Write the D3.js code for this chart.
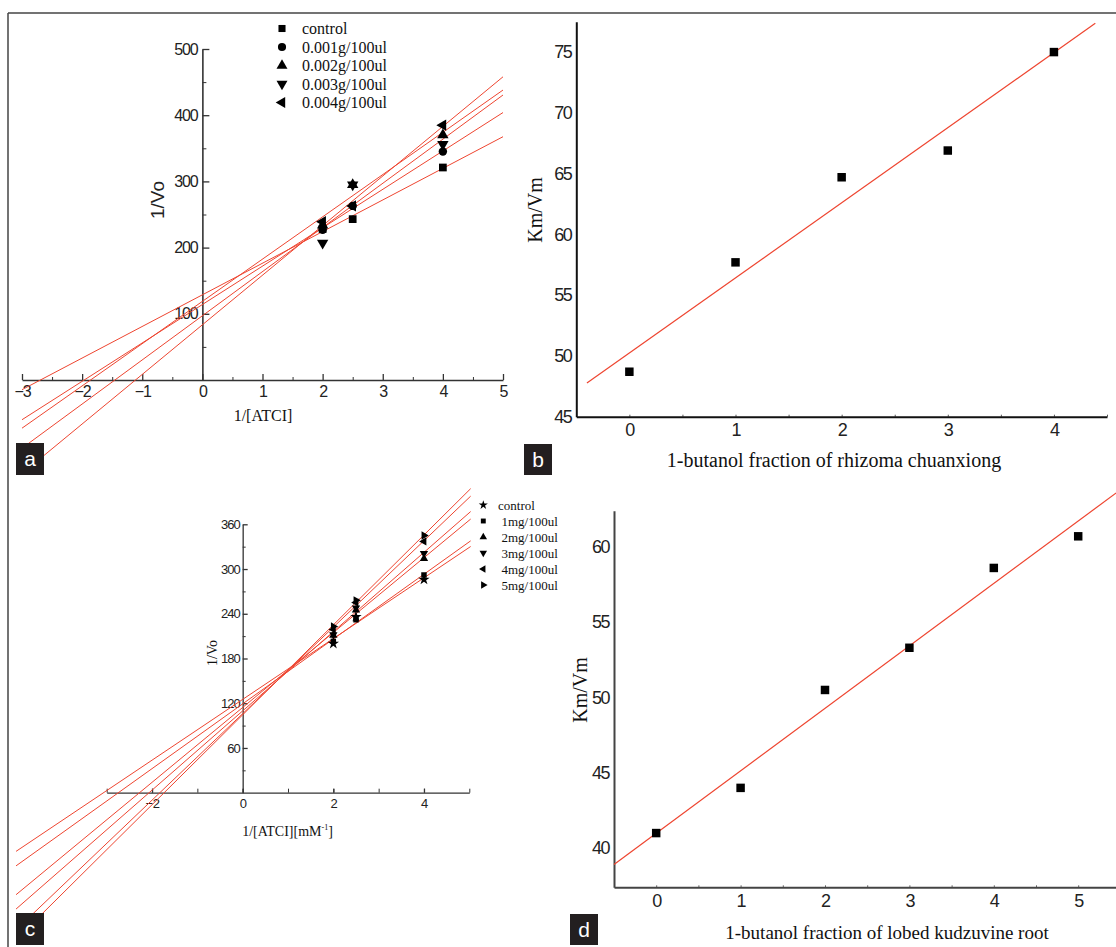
<!DOCTYPE html>
<html lang="en">
<head>
<meta charset="utf-8">
<title>Lineweaver-Burk plots</title>
<script src="https://d3js.org/d3.v7.min.js"></script>
<style>
  body { margin: 0; background: #fff; }
  .tick text { font-family: "Liberation Sans", Arial, sans-serif; fill: #222; }
  .serif { font-family: "Liberation Serif", "Times New Roman", serif; fill: #111; }
</style>
</head>
<body>
<script>
// ---- data ----
// panel a: 1/Vo vs 1/[ATCI]
const aX = [2, 2.5, 4];
const aNames = ["control", "0.001g/100ul", "0.002g/100ul", "0.003g/100ul", "0.004g/100ul"];
const aControl = [228, 243, 321];
const a001 = [227, 263, 345];
const a002 = [234, 295, 370];
const a003 = [207, 295, 356];
const a004 = [239, 263, 385];
const aXTicks = [-3, -2, -1, 0, 1, 2, 3, 4, 5];
const aYTicks = [100, 200, 300, 400, 500];

// panel b: Km/Vm vs fraction (rhizoma chuanxiong)
const bX = [0, 1, 2, 3, 4];
const bY = [48.7, 57.7, 64.7, 66.9, 75.0];
const bXTicks = [0, 1, 2, 3, 4];
const bYTicks = [45, 50, 55, 60, 65, 70, 75];

// panel c: 1/Vo vs 1/[ATCI][mM-1]
const cX = [2, 2.5, 4];
const cNames = ["control", "1mg/100ul", "2mg/100ul", "3mg/100ul", "4mg/100ul", "5mg/100ul"];
const cControl = [200, 236, 286];
const c1mg = [203, 232, 292];
const c2mg = [211, 245, 314];
const c3mg = [212, 248, 321];
const c4mg = [219, 255, 337];
const c5mg = [223, 258, 345];
const cXTicks = [-2, 0, 2, 4];
const cYTicks = [60, 120, 180, 240, 300, 360];

// panel d: Km/Vm vs fraction (lobed kudzuvine root)
const dX = [0, 1, 2, 3, 4, 5];
const dY = [41.0, 44.0, 50.5, 53.3, 58.6, 60.7];
const dXTicks = [0, 1, 2, 3, 4, 5];
const dYTicks = [40, 45, 50, 55, 60];

// ---- svg ----
const width = 1116, height = 947;
const svg = d3.select("body").append("svg")
  .attr("width", width).attr("height", height);
svg.append("rect").attr("width", width).attr("height", height).attr("fill", "#fff");

const red = "#ee4530";
const intFmt = d3.format("d");

// least squares line through the points
function fit(xs, ys) {
  const mx = d3.mean(xs), my = d3.mean(ys);
  let sxy = 0, sxx = 0;
  xs.forEach((x, i) => { sxy += (x - mx) * (ys[i] - my); sxx += (x - mx) * (x - mx); });
  const m = sxy / sxx;
  return { m: m, b: my - m * mx };
}

function drawFit(g, x, y, xs, ys, range, w) {
  const f = fit(xs, ys);
  g.append("path")
    .datum(range)
    .attr("d", d3.line().x(d => x(d)).y(d => y(f.m * d + f.b)))
    .attr("fill", "none")
    .attr("stroke", red)
    .attr("stroke-width", w || 1.1);
}

// symbol shapes: [type, rotation]
const mk = {
  square: [d3.symbolSquare, 0],
  circle: [d3.symbolCircle, 0],
  up: [d3.symbolTriangle, 0],
  down: [d3.symbolTriangle, 180],
  left: [d3.symbolTriangle, -90],
  right: [d3.symbolTriangle, 90],
  star: [d3.symbolStar, 0]
};
function marker(g, shape, size, px, py) {
  const s = mk[shape];
  g.append("path")
    .attr("d", d3.symbol().type(s[0]).size(size)())
    .attr("transform", `translate(${px},${py}) rotate(${s[1]})`)
    .attr("fill", "#000");
}

function styleAxis(sel, color, w, fs, ls) {
  sel.select(".domain").attr("stroke", color).attr("stroke-width", w);
  sel.selectAll(".tick line").attr("stroke", color).attr("stroke-width", Math.min(w, 1.3));
  sel.selectAll(".tick text").style("font-size", fs + "px").style("letter-spacing", ls + "px");
}

function labelBox(x0, y0, w, h, letter) {
  svg.append("rect").attr("x", x0).attr("y", y0).attr("width", w).attr("height", h).attr("fill", "#231f20");
  svg.append("text").attr("x", x0 + w / 2).attr("y", y0 + h / 2 + 7)
    .attr("text-anchor", "middle")
    .style("font-family", "Liberation Sans, Arial, sans-serif")
    .style("font-size", "21px").attr("fill", "#fff").text(letter);
}

// frame lines
svg.append("line").attr("x1", 8).attr("x2", width).attr("y1", 13).attr("y2", 13)
  .attr("stroke", "#444").attr("stroke-width", 1.5);
svg.append("line").attr("x1", 8).attr("x2", 8).attr("y1", 13).attr("y2", height)
  .attr("stroke", "#444").attr("stroke-width", 1.5);

// ================= panel a =================
{
  const g = svg.append("g");
  const x = d3.scaleLinear().domain([-3, 5]).range([22, 503]);
  const y = d3.scaleLinear().domain([0, 500]).range([380, 49]);

  // minor ticks
  g.append("g").attr("transform", `translate(0,${y(0)})`)
    .call(d3.axisBottom(x).tickValues(d3.range(-2.5, 5, 1)).tickSizeInner(-3).tickSizeOuter(0).tickFormat(""))
    .call(s => { s.select(".domain").remove(); s.selectAll("line").attr("stroke", "#333"); });
  g.append("g").attr("transform", `translate(${x(0)},0)`)
    .call(d3.axisLeft(y).tickValues(d3.range(50, 500, 100)).tickSizeInner(-4).tickSizeOuter(0).tickFormat(""))
    .call(s => { s.select(".domain").remove(); s.selectAll("line").attr("stroke", "#333"); });

  g.append("g").attr("transform", `translate(0,${y(0)})`)
    .call(d3.axisBottom(x).tickValues(aXTicks).tickFormat(intFmt).tickSizeInner(-6).tickSizeOuter(0).tickPadding(6))
    .call(s => styleAxis(s, "#333", 1.6, 16, -1));
  g.append("g").attr("transform", `translate(${x(0)},0)`)
    .call(d3.axisLeft(y).tickValues(aYTicks).tickFormat(intFmt).tickSizeInner(-7).tickSizeOuter(0).tickPadding(5))
    .call(s => styleAxis(s, "#333", 1.6, 16, -1.2));

  const series = [aControl, a001, a002, a003, a004];
  const shapes = ["square", "circle", "up", "down", "left"];
  series.forEach(ys => drawFit(g, x, y, aX, ys, [-3, 5], 1));
  series.forEach((ys, i) => ys.forEach((v, j) => marker(g, shapes[i], i === 0 ? 60 : 56, x(aX[j]), y(v))));

  // legend
  aNames.forEach((n, i) => {
    const ly = 28.5 + i * 18.5;
    marker(g, shapes[i], i === 0 ? 50 : 52, 282, ly);
    g.append("text").attr("class", "serif").attr("x", 302).attr("y", ly + 5.5)
      .style("font-size", "16px").text(n);
  });

  g.append("text").attr("transform", "translate(164,200) rotate(-90)")
    .attr("text-anchor", "middle")
    .style("font-family", "Liberation Sans, Arial, sans-serif").style("font-size", "19px")
    .attr("fill", "#222").text("1/Vo");
  g.append("text").attr("class", "serif").attr("x", 263).attr("y", 420.5)
    .attr("text-anchor", "middle").style("font-size", "16px").text("1/[ATCI]");
}

// ================= panel b =================
{
  const g = svg.append("g");
  const x = d3.scaleLinear().domain([-0.5, 4.5]).range([576.3, 1107]);
  const y = d3.scaleLinear().domain([45, 77.5]).range([416.7, 21.7]);

  g.append("g").attr("transform", `translate(0,${y(45)})`)
    .call(d3.axisBottom(x).tickValues(d3.range(0, 4.6, 0.5)).tickSizeInner(-2).tickSizeOuter(0).tickFormat(""))
    .call(s => { s.select(".domain").remove(); s.selectAll("line").attr("stroke", "#555"); });
  g.append("g").attr("transform", `translate(0,${y(45)})`)
    .call(d3.axisBottom(x).tickValues(bXTicks).tickFormat(intFmt).tickSize(0).tickPadding(7))
    .call(s => styleAxis(s, "#111", 2, 18, -1));
  g.append("g").attr("transform", `translate(${x(-0.5)},0)`)
    .call(d3.axisLeft(y).tickValues(bYTicks).tickFormat(intFmt).tickSize(0).tickPadding(5))
    .call(s => styleAxis(s, "#111", 2, 18, -1.5));

  drawFit(g, x, y, bX, bY, [-0.4, 4.39], 1.2);
  bX.forEach((v, i) => marker(g, "square", 72, x(v), y(bY[i])));

  g.append("text").attr("class", "serif").attr("transform", "translate(542,210) rotate(-90)")
    .attr("text-anchor", "middle").style("font-size", "20px").text("Km/Vm");
  g.append("text").attr("class", "serif").attr("x", 834).attr("y", 467)
    .attr("text-anchor", "middle").style("font-size", "20px")
    .text("1-butanol fraction of rhizoma chuanxiong");
}

// ================= panel c =================
{
  const g = svg.append("g");
  const x = d3.scaleLinear().domain([-3, 5]).range([106.7, 469.3]);
  const y = d3.scaleLinear().domain([0, 360]).range([792.7, 524.3]);
  const x0 = x(0);

  g.append("g").attr("transform", `translate(${x0},0)`)
    .call(d3.axisLeft(y).tickValues(d3.range(30, 360, 60)).tickSizeInner(-3).tickSizeOuter(0).tickFormat(""))
    .call(s => { s.select(".domain").remove(); s.selectAll("line").attr("stroke", "#333"); });
  g.append("g").attr("transform", `translate(0,${y(0)})`)
    .call(d3.axisBottom(x).tickValues(d3.range(-3, 6, 1)).tickSizeInner(-4).tickSizeOuter(0).tickFormat(""))
    .call(s => { s.select(".domain").remove(); s.selectAll("line").attr("stroke", "#333"); });

  g.append("g").attr("transform", `translate(0,${y(0)})`)
    .call(d3.axisBottom(x).tickValues(cXTicks).tickFormat(intFmt).tickSizeInner(-4).tickSizeOuter(0).tickPadding(6))
    .call(s => styleAxis(s, "#333", 1.3, 13, -0.5));
  g.append("g").attr("transform", `translate(${x0},0)`)
    .call(d3.axisLeft(y).tickValues(cYTicks).tickFormat(intFmt).tickSizeInner(-5).tickSizeOuter(0).tickPadding(3))
    .call(s => styleAxis(s, "#333", 1.3, 13, -1));

  const series = [cControl, c1mg, c2mg, c3mg, c4mg, c5mg];
  const shapes = ["star", "square", "up", "down", "left", "right"];
  series.forEach(ys => drawFit(g, x, y, cX, ys, [-5.0, 5.03], 1));
  series.forEach((ys, i) => ys.forEach((v, j) => marker(g, shapes[i], i === 0 ? 40 : 30, x(cX[j]), y(v))));

  cNames.forEach((n, i) => {
    const ly = 505 + i * 16;
    marker(g, shapes[i], i === 0 ? 26 : 24, 483.3, ly);
    g.append("text").attr("class", "serif").attr("x", i === 0 ? 498 : 501.5).attr("y", ly + 4.5)
      .style("font-size", "13px").text(n);
  });

  g.append("text").attr("class", "serif").attr("transform", "translate(216.5,653) rotate(-90)")
    .attr("text-anchor", "middle").style("font-size", "14px").text("1/Vo");
  const t = g.append("text").attr("class", "serif").attr("x", 287.5).attr("y", 836)
    .attr("text-anchor", "middle").style("font-size", "14px");
  t.append("tspan").text("1/[ATCI][mM");
  t.append("tspan").attr("dy", -6).style("font-size", "8px").text("-1");
  t.append("tspan").attr("dy", 6).text("]");
}

// ================= panel d =================
{
  const g = svg.append("g");
  const x = d3.scaleLinear().domain([-0.5, 5.5]).range([614, 1120.4]);
  const y = d3.scaleLinear().domain([37.4, 62.4]).range([887.3, 510.7]);

  g.append("g").attr("transform", `translate(0,${y(37.4)})`)
    .call(d3.axisBottom(x).tickValues(d3.range(0, 5.6, 0.5)).tickSizeInner(-2).tickSizeOuter(0).tickFormat(""))
    .call(s => { s.select(".domain").remove(); s.selectAll("line").attr("stroke", "#666"); });
  g.append("g").attr("transform", `translate(0,${y(37.4)})`)
    .call(d3.axisBottom(x).tickValues(dXTicks).tickFormat(intFmt).tickSize(0).tickPadding(7))
    .call(s => styleAxis(s, "#444", 2, 18, -1));
  g.append("g").attr("transform", `translate(${x(-0.5)},0)`)
    .call(d3.axisLeft(y).tickValues(dYTicks).tickFormat(intFmt).tickSize(0).tickPadding(5))
    .call(s => styleAxis(s, "#444", 2, 18, -1.5));

  drawFit(g, x, y, dX, dY, [-0.5, 5.45], 1.2);
  dX.forEach((v, i) => marker(g, "square", 72, x(v), y(dY[i])));

  g.append("text").attr("class", "serif").attr("transform", "translate(587,690) rotate(-90)")
    .attr("text-anchor", "middle").style("font-size", "20px").text("Km/Vm");
  g.append("text").attr("class", "serif").attr("x", 887).attr("y", 938.5)
    .attr("text-anchor", "middle").style("font-size", "19px")
    .text("1-butanol fraction of lobed kudzuvine root");
}

// panel letters drawn last so they sit over the fit lines
labelBox(16, 443, 28, 32, "a");
labelBox(524, 444, 28, 31, "b");
labelBox(16, 913, 28, 32, "c");
labelBox(570, 914, 28, 31, "d");
</script>
</body>
</html>
